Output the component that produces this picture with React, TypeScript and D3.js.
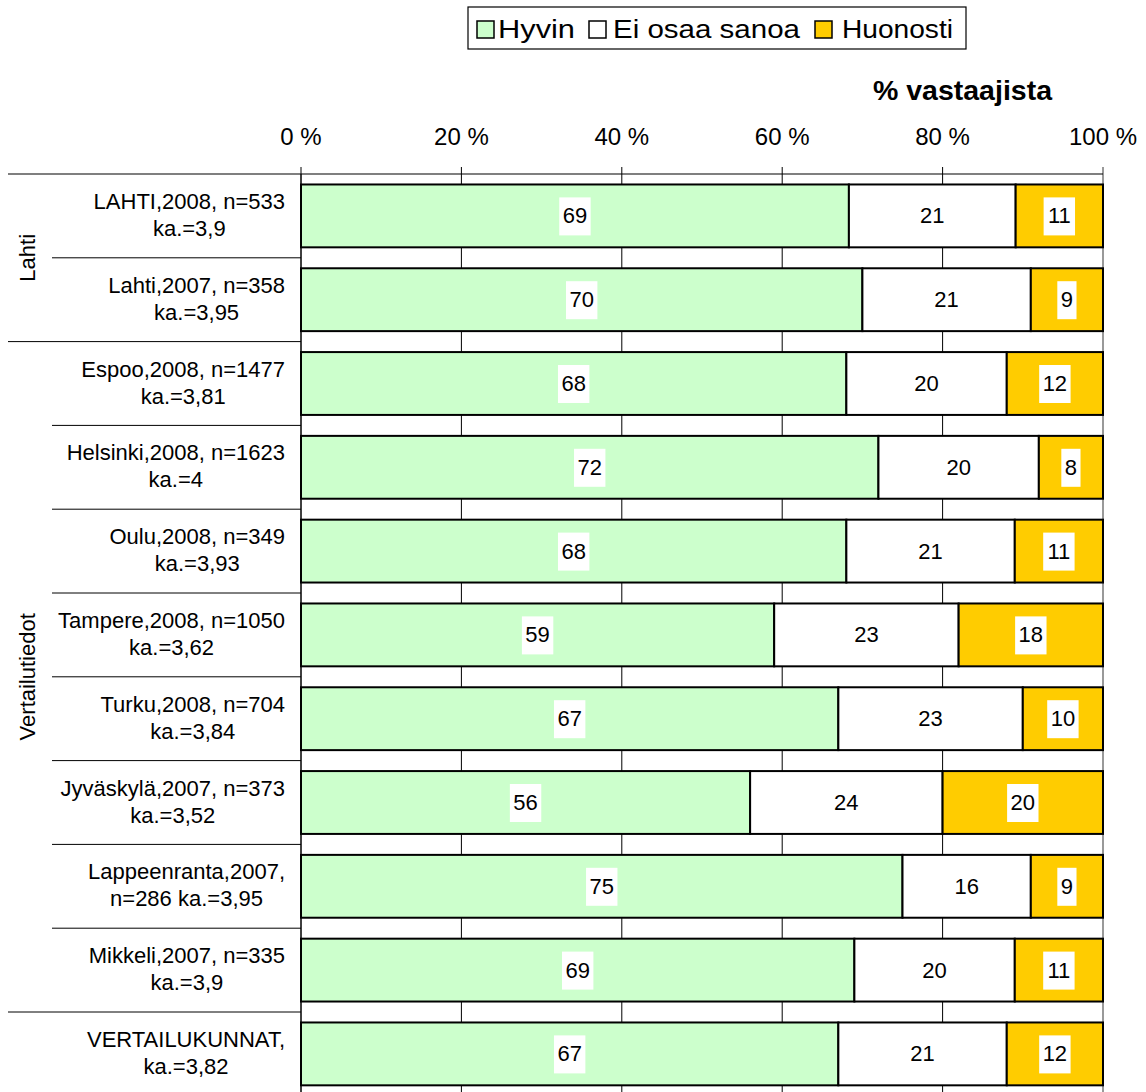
import React from 'react';
import * as d3 from 'd3';

// rows, top to bottom
const labels: string[][] = [
  ['LAHTI,2008, n=533', 'ka.=3,9'],
  ['Lahti,2007, n=358', 'ka.=3,95'],
  ['Espoo,2008, n=1477', 'ka.=3,81'],
  ['Helsinki,2008, n=1623', 'ka.=4'],
  ['Oulu,2008, n=349', 'ka.=3,93'],
  ['Tampere,2008, n=1050', 'ka.=3,62'],
  ['Turku,2008, n=704', 'ka.=3,84'],
  ['Jyväskylä,2007, n=373', 'ka.=3,52'],
  ['Lappeenranta,2007,', 'n=286 ka.=3,95'],
  ['Mikkeli,2007, n=335', 'ka.=3,9'],
  ['VERTAILUKUNNAT,', 'ka.=3,82'],
];
const hyvin = [69, 70, 68, 72, 68, 59, 67, 56, 75, 69, 67];
const eiOsaa = [21, 21, 20, 20, 21, 23, 23, 24, 16, 20, 21];
const huonosti = [11, 9, 12, 8, 11, 18, 10, 20, 9, 11, 12];

const seriesNames = ['Hyvin', 'Ei osaa sanoa', 'Huonosti'];
const seriesColors = ['#CCFFCC', '#FFFFFF', '#FFCC00'];
const ticks = [0, 20, 40, 60, 80, 100];

// group labels: [name, first row, last row]
const groups: [string, number, number][] = [
  ['Lahti', 0, 1],
  ['Vertailutiedot', 2, 9],
];

const font = 'Liberation Sans, Arial, sans-serif';
const catSize = 22;

let ctx: CanvasRenderingContext2D | null = null;
function measure(s: string, size: number) {
  if (!ctx) ctx = document.createElement('canvas').getContext('2d');
  if (!ctx) return s.length * size * 0.55;
  ctx.font = `${size}px "Liberation Sans", Arial, sans-serif`;
  return ctx.measureText(s).width;
}

export default function App() {
  const width = 1146;
  const height = 1092;
  const left = 301;
  const right = 1103;
  const top = 174;
  const rowH = 83.8;

  const x = d3.scaleLinear().domain([0, 100]).range([left, right]);
  const y = d3.scaleBand<number>()
    .domain(d3.range(labels.length))
    .range([top, top + rowH * labels.length])
    .paddingInner(0.25)
    .paddingOuter(0.125);

  const rows = labels.map((_, i) => {
    const vals = [hyvin[i], eiOsaa[i], huonosti[i]];
    const sum = d3.sum(vals);
    let acc = 0;
    return vals.map((v, k) => {
      const x0 = (acc / sum) * 100;
      acc += v;
      const x1 = (acc / sum) * 100;
      return { k, v, x0, x1 };
    });
  });

  const bottom = top + rowH * labels.length;

  // legend layout: square x, text x, text width
  const legendItems = [
    { sx: 477, tx: 498, tw: 77 },
    { sx: 589, tx: 613, tw: 187 },
    { sx: 815, tx: 842, tw: 111 },
  ];

  return (
    <svg width={width} height={height} style={{ position: 'absolute', left: 0, top: 0, background: '#fff' }}
         fontFamily={font}>
      {/* legend */}
      <rect x={468} y={7} width={498} height={42} fill="#fff" stroke="#000" strokeWidth={1.2} />
      {seriesNames.map((n, k) => (
        <g key={n}>
          <rect x={legendItems[k].sx} y={21} width={17} height={17} fill={seriesColors[k]} stroke="#000" strokeWidth={1.5} />
          <text x={legendItems[k].tx} y={38} fontSize={25} textLength={legendItems[k].tw} lengthAdjust="spacingAndGlyphs">{n}</text>
        </g>
      ))}

      <text x={1052} y={100} fontSize={28.5} fontWeight="bold" textAnchor="end">% vastaajista</text>

      {/* grid lines */}
      {ticks.map(t => (
        <g key={t}>
          <line x1={x(t)} x2={x(t)} y1={top - 7} y2={bottom} stroke={t === 100 ? '#999' : '#000'} strokeWidth={t === 100 ? 2 : 1} />
          <text x={x(t)} y={145} fontSize={24} textAnchor="middle">{t} %</text>
        </g>
      ))}
      <line x1={left} x2={left} y1={top} y2={bottom} stroke="#000" strokeWidth={1} />
      <line x1={8} x2={right} y1={top} y2={top} stroke="#000" strokeWidth={1.2} />

      {/* category tick lines */}
      {d3.range(1, labels.length).map(i => {
        const yy = top + rowH * i;
        const inGroup = groups.some(g => i > g[1] && i <= g[2]);
        return <line key={i} x1={inGroup ? 52 : 8} x2={left} y1={yy} y2={yy} stroke="#000" strokeWidth={1} />;
      })}

      {/* group labels */}
      {groups.map(([name, a, b]) => {
        const cy = top + rowH * (a + b + 1) / 2;
        return (
          <text key={name} transform={`translate(35,${cy}) rotate(-90)`} fontSize={22} textAnchor="middle">{name}</text>
        );
      })}

      {/* category labels: block right aligned, lines centred */}
      {labels.map((l, i) => {
        const cy = (y(i) as number) + y.bandwidth() / 2;
        const w = Math.max(measure(l[0], catSize), measure(l[1], catSize));
        const cx = 285 - w / 2;
        return (
          <text key={i} fontSize={catSize} textAnchor="middle">
            <tspan x={cx} y={cy - 7}>{l[0]}</tspan>
            <tspan x={cx} y={cy + 20}>{l[1]}</tspan>
          </text>
        );
      })}

      {/* bars */}
      {rows.map((segs, i) => (
        <g key={i}>
          {segs.map(s => (
            <rect key={s.k} x={x(s.x0)} y={y(i)} width={x(s.x1) - x(s.x0)} height={y.bandwidth()}
                  fill={seriesColors[s.k]} stroke="#000" strokeWidth={2} />
          ))}
          {segs.map(s => {
            const cx = (x(s.x0) + x(s.x1)) / 2;
            const cy = (y(i) as number) + y.bandwidth() / 2;
            const w = String(s.v).length * 12.2 + 7;
            return (
              <g key={'l' + s.k}>
                <rect x={cx - w / 2} y={cy - 18.5} width={w} height={38} fill="#fff" />
                <text x={cx} y={cy + 7.5} fontSize={22} textAnchor="middle">{s.v}</text>
              </g>
            );
          })}
        </g>
      ))}
    </svg>
  );
}
